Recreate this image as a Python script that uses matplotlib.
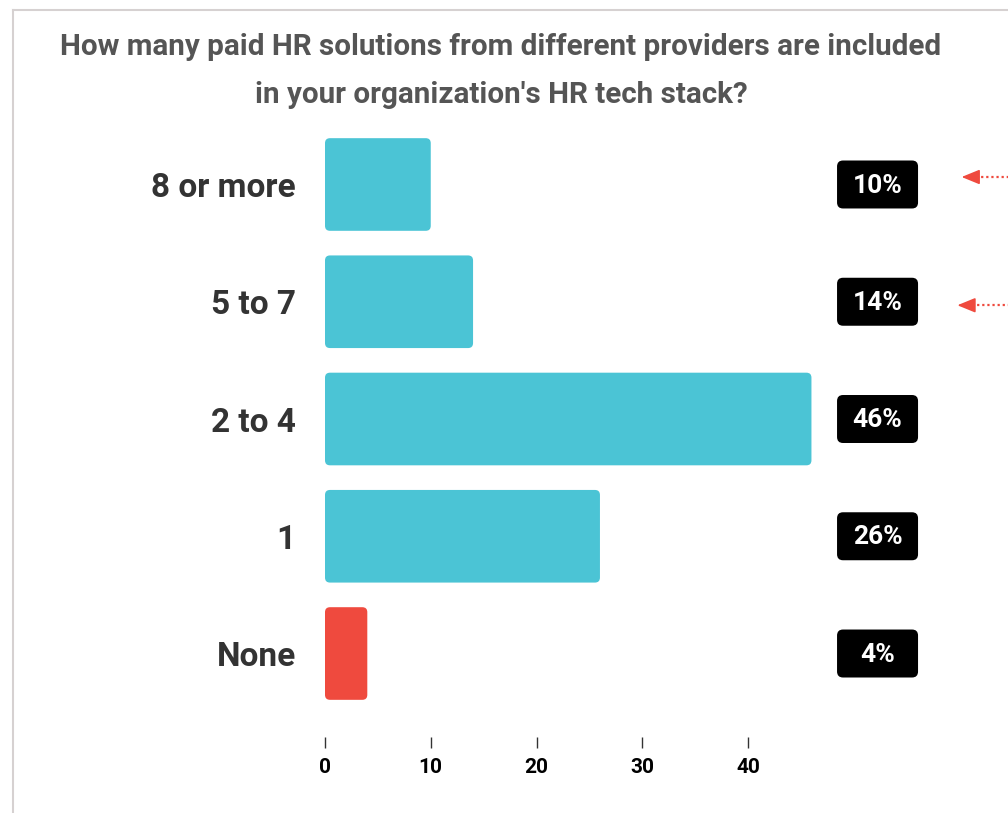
import matplotlib.pyplot as plt
from matplotlib.patches import FancyBboxPatch
from matplotlib.lines import Line2D

plt.rcParams['font.family'] = ['Roboto', 'DejaVu Sans']

categories = ["8 or more", "5 to 7", "2 to 4", "1", "None"]
values = [10, 14, 46, 26, 4]
labels = ["10%", "14%", "46%", "26%", "4%"]
flagged = ["8 or more", "5 to 7"]
x_ticks = [0, 10, 20, 30, 40]
title_lines = ["How many paid HR solutions from different providers are included",
               "in your organization's HR tech stack?"]

TEAL = "#4bc4d5"
RED = "#ef4a3e"

W, H = 1008, 813
fig = plt.figure(figsize=(W / 100, H / 100), dpi=100)

# axes box in pixels: x 0 -> 325px, 10.575 px per unit; rows 117.3 px apart
x0_px, px_per_x = 325, 10.575
xmax = 64
bottom_px, top_px = 737, 120
ax = fig.add_axes([x0_px / W, (H - bottom_px) / H,
                   xmax * px_per_x / W, (bottom_px - top_px) / H])
ax.set_xlim(0, xmax)
ax.set_ylim(4.712, -0.55)

# data units per pixel, used to keep corner rounding circular
ux = 1 / px_per_x
uy = 1 / 117.3
aspect = uy / ux

bar_h = 0.79
for i, (cat, v) in enumerate(zip(categories, values)):
    color = RED if cat == "None" else TEAL
    bar = FancyBboxPatch((0, i - bar_h / 2), v, bar_h,
                         boxstyle="round,pad=0,rounding_size=%f" % (5 * ux),
                         mutation_aspect=aspect, fc=color, ec="none")
    ax.add_patch(bar)

# black value badges
box_cx = 52.25
box_w, box_h = 81 * ux, 48 * uy
for i, lab in enumerate(labels):
    badge = FancyBboxPatch((box_cx - box_w / 2, i - box_h / 2), box_w, box_h,
                           boxstyle="round,pad=0,rounding_size=%f" % (6 * ux),
                           mutation_aspect=aspect, fc="black", ec="none",
                           clip_on=False)
    ax.add_patch(badge)
    ax.text(box_cx, i + 0.01, lab, ha="center", va="center", color="white",
            fontsize=19, fontweight="bold")

# red dotted pointers on the flagged rows
for cat, dy, tip in zip(flagged, [-7.5 * uy, 3.5 * uy], [60.2, 59.8]):
    i = categories.index(cat)
    ax.plot([tip + 1.4, xmax + 2], [i + dy, i + dy], color=RED, lw=1.6,
            ls=(0, (1, 1.3)), clip_on=False)
    ax.annotate("", xy=(tip, i + dy), xytext=(tip + 1.6, i + dy),
                arrowprops=dict(arrowstyle="-|>,head_length=1.1,head_width=0.45",
                                color=RED, lw=1.2, shrinkA=0, shrinkB=0),
                annotation_clip=False)

ax.set_yticks(range(len(categories)))
ax.set_yticklabels(categories, fontsize=24, fontweight="bold", color="#333333")
ax.tick_params(axis="y", length=0, pad=21)

ax.set_xticks(x_ticks)
ax.set_xticklabels([str(t) for t in x_ticks], fontsize=15,
                   fontweight="bold", color="black")
ax.tick_params(axis="x", length=8, width=1, color="#333333", pad=7)

for s in ax.spines.values():
    s.set_visible(False)

for line, y_px in zip(title_lines, [47, 95]):
    fig.text(501 / W, 1 - y_px / H, line, ha="center", va="center",
             fontsize=21.3, fontweight="bold", color="#555555")

# card border along the top and left edges
fig.add_artist(Line2D([13 / W, 13 / W], [0, 1 - 10 / H], color="#d6d1d1",
                      lw=1.5, transform=fig.transFigure))
fig.add_artist(Line2D([13 / W, 1], [1 - 10 / H, 1 - 10 / H], color="#d6d1d1",
                      lw=1.5, transform=fig.transFigure))

fig.savefig("out.png", dpi=100)
